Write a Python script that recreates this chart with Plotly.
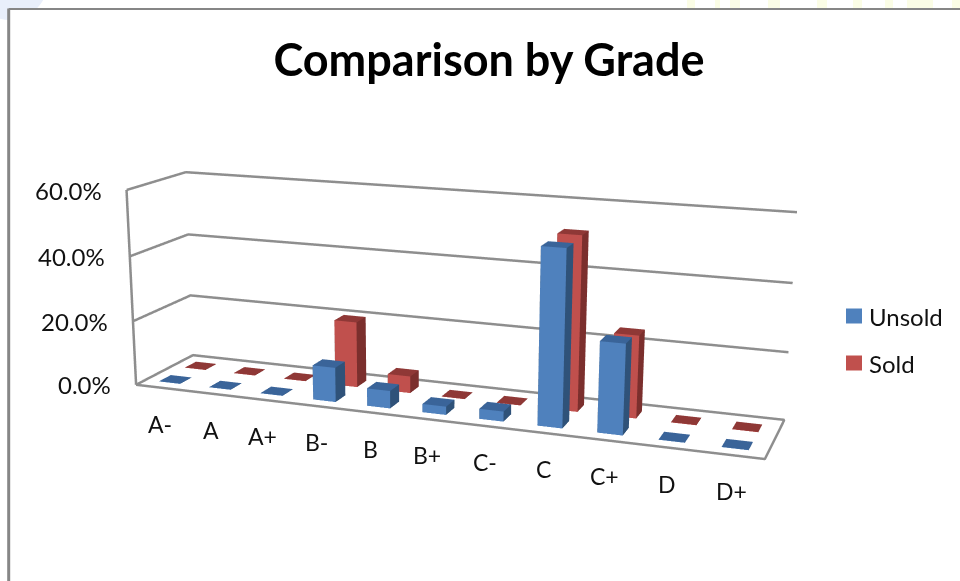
import plotly.graph_objects as go

title = "Comparison by Grade"
categories = ["A-", "A", "A+", "B-", "B", "B+", "C-", "C", "C+", "D", "D+"]
series_names = ["Unsold", "Sold"]
unsold = [0.1, 0.1, 0.1, 10.5, 5.3, 2.5, 3.0, 51.5, 26.3, 0.1, 0.1]
sold = [0.1, 0.1, 0.1, 20.3, 5.2, 0.1, 0.1, 52.0, 24.5, 0.1, 0.1]
z_ticks = [0, 20, 40, 60]
z_labels = ["0.0%", "20.0%", "40.0%", "60.0%"]

# The figure is taller than the window so the 3D view gets the long lens of the original;
# the page is shifted up by PAGE_TOP and everything in paper space is placed in window pixels.
FIG_H = 1290
PAGE_TOP = 322
def py(y):
    return 1 - (y + PAGE_TOP) / FIG_H
def px(x):
    return x / 960

BAR_W = 0.42; BAR_D = 0.2; Y_C = [0.255, 0.71]
LIGHT = dict(ambient=1, diffuse=0, specular=0, roughness=1, fresnel=0)

def series_mesh(name, vals, yc, front, side, top):
    xs, ys, zs, I, J, K, fc = [], [], [], [], [], [], []
    for i, v in enumerate(vals):
        x0, x1 = i + .49 - BAR_W / 2, i + .49 + BAR_W / 2
        y0, y1 = yc - BAR_D / 2, yc + BAR_D / 2
        b = len(xs)
        for zz in (0, v):
            for xx, yy in ((x0, y0), (x1, y0), (x1, y1), (x0, y1)):
                xs.append(xx); ys.append(yy); zs.append(zz)
        faces = [((0, 1, 5), front), ((0, 5, 4), front), ((1, 2, 6), side), ((1, 6, 5), side),
                 ((4, 5, 6), top), ((4, 6, 7), top), ((3, 0, 4), side), ((3, 4, 7), side),
                 ((2, 3, 7), side), ((2, 7, 6), side)]
        for (a, c, d), col in faces:
            I.append(b + a); J.append(b + c); K.append(b + d); fc.append(col)
    return go.Mesh3d(x=xs, y=ys, z=zs, i=I, j=J, k=K, facecolor=fc, flatshading=True, name=name,
                     showlegend=False, hoverinfo="skip", lighting=LIGHT)

fig = go.Figure()
fig.add_trace(series_mesh(series_names[1], sold, Y_C[1], "#C0504D", "#7B2F2D", "#8F3836"))
fig.add_trace(series_mesh(series_names[0], unsold, Y_C[0], "#4F81BD", "#2F5279", "#3A6499"))
n = len(categories)
LINE = dict(color="#8E8E8E", width=5)
def path(x, y, z):
    fig.add_trace(go.Scatter3d(x=x, y=y, z=z, mode="lines", line=LINE, showlegend=False, hoverinfo="skip"))
path([0, n, n, 0, 0], [0, 0, 1, 1, 0], [0] * 5)
path([0, 0], [0, 0], [0, 60])
for t in z_ticks[1:]:
    path([0, 0, n], [0, 1, 1], [t, t, t])

ann = []
for i, c in enumerate(categories):
    ann.append(dict(x=i + .5, y=0, z=0, text=c, showarrow=False, yshift=-36, xshift=-1,
                    font=dict(size=23, family="Lato", color="#111")))
for t, l in zip(z_ticks, z_labels):
    ann.append(dict(x=0, y=0, z=t, text=l, showarrow=False, xanchor="right", xshift=-23,
                    font=dict(size=24, family="Lato", color="#111")))

shapes = [
    dict(type="circle", xref="paper", yref="paper", x0=px(-28), x1=px(48), y0=py(20), y1=py(-58),
         fillcolor="#E9EFFB", line=dict(width=0), layer="below"),
]
# faint remains of the slide background above the chart frame
for a, b in [(687, 695), (715, 720), (730, 740), (768, 780), (817, 827), (853, 862), (885, 893), (907, 933), (952, 960)]:
    shapes.append(dict(type="rect", xref="paper", yref="paper", x0=px(a), x1=px(b), y0=py(8), y1=py(0),
                       fillcolor="#FBFDE6", line=dict(width=0), layer="below"))
shapes += [
    dict(type="rect", xref="paper", yref="paper", x0=px(9), x1=px(960), y0=py(581), y1=py(9),
         fillcolor="white", line=dict(width=0), layer="below"),
    dict(type="line", xref="paper", yref="paper", x0=px(8.7), x1=px(8.7), y0=py(581), y1=py(8.5),
         line=dict(color="#868686", width=3), layer="below"),
    dict(type="line", xref="paper", yref="paper", x0=px(8.7), x1=px(960), y0=py(9), y1=py(9),
         line=dict(color="#868686", width=2), layer="below"),
]
legend_colors = ["#4F81BD", "#C0504D"]
legend_y = [316, 363]
page_ann = []
for name, col, y in zip(series_names, legend_colors, legend_y):
    shapes.append(dict(type="rect", xref="paper", yref="paper", x0=px(846), x1=px(862), y0=py(y + 7.5), y1=py(y - 7.5),
                       fillcolor=col, line=dict(width=0)))
    page_ann.append(dict(xref="paper", yref="paper", x=px(867), y=py(y), xanchor="left", yanchor="middle",
                         showarrow=False, text=name, font=dict(size=24, family="Lato", color="#111")))

fig.update_layout(
    width=960, height=FIG_H, margin=dict(l=0, r=0, t=0, b=0), paper_bgcolor="white",
    title=dict(text="<b>%s</b>" % title, x=489 / 960, xanchor="center", y=py(60), yanchor="middle",
               font=dict(family="Lato", size=45, color="black")),
    scene=dict(domain=dict(x=[0, 0.9248], y=[0, 1]), dragmode="orbit",
               xaxis=dict(visible=False, range=[0, n]), yaxis=dict(visible=False, range=[0, 1]),
               zaxis=dict(visible=False, range=[0, 60]),
               aspectmode="manual", aspectratio=dict(x=1, y=0.1855, z=0.3155),
               camera=dict(eye=dict(x=0.7824, y=-2.1663, z=0.5719),
                           center=dict(x=-0.0054, y=-0.0100, z=-0.0297),
                           up=dict(x=-0.0033, y=0, z=1), projection=dict(type="perspective")),
               annotations=ann),
    shapes=shapes, annotations=page_ann,
)
fig.write_html("out.html", config=dict(displayModeBar=False),
               post_script="document.body.style.margin='-%dpx 0 0 0';document.documentElement.style.overflow='hidden';document.body.style.overflow='hidden';" % PAGE_TOP)
